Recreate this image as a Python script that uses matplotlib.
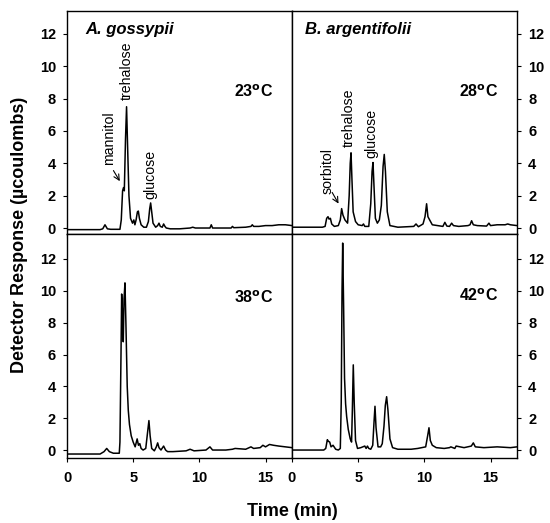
import matplotlib
matplotlib.use('Agg')
import matplotlib.pyplot as plt

plt.rcParams['font.family'] = ['Liberation Sans', 'DejaVu Sans']

# A. gossypii, 23 C
ag23_t = [0, 2.5, 2.7, 2.87, 3.05, 3.3, 4.0, 4.1, 4.2, 4.27, 4.33, 4.42, 4.5, 4.58, 4.68, 4.8,
          4.95, 5.05, 5.13, 5.22, 5.32, 5.39, 5.47, 5.6, 5.8, 6.0, 6.15, 6.25, 6.32, 6.4, 6.5,
          6.7, 6.85, 6.95, 7.05, 7.2, 7.3, 7.4, 7.5, 7.8, 8.5, 9.3, 9.5, 9.7, 10.5, 10.8, 10.9,
          11.0, 12.0, 12.4, 12.5, 12.6, 13.5, 13.9, 14.0, 14.1, 14.5, 15.0, 15.5, 16.0, 16.5, 17.0]
ag23_v = [-0.1, -0.1, -0.05, 0.2, -0.05, -0.08, -0.08, 0.5, 2.3, 2.5, 2.3, 5.5, 7.5, 5.0, 2.0, 0.6,
          0.3, 0.5, 0.2, 0.5, 1.0, 1.05, 0.6, 0.2, 0.05, 0.05, 0.4, 1.2, 1.55, 1.0, 0.3,
          0.05, 0.15, 0.3, 0.1, 0.05, 0.25, 0.1, 0.0, -0.05, -0.05, 0.0, 0.05, 0.0, 0.0, 0.0, 0.2,
          0.0, 0.0, 0.0, 0.1, 0.02, 0.05, 0.1, 0.2, 0.1, 0.1, 0.15, 0.15, 0.2, 0.2, 0.15]

# B. argentifolii, 28 C
ba28_t = [0, 2.3, 2.5, 2.62, 2.72, 2.8, 2.9, 3.0, 3.2, 3.5, 3.65, 3.75, 3.85, 4.0, 4.2, 4.32, 4.4,
          4.46, 4.53, 4.62, 4.8, 5.0, 5.3, 5.4, 5.5, 5.8, 5.95, 6.05, 6.12, 6.2, 6.3, 6.45, 6.6,
          6.75, 6.88, 6.97, 7.06, 7.2, 7.4, 8.0, 9.2, 9.37, 9.55, 9.9, 10.05, 10.17, 10.27, 10.4,
          10.6, 11.0, 11.4, 11.55, 11.7, 11.9, 12.06, 12.2, 12.6, 13.3, 13.45, 13.57, 13.7, 14.0,
          14.7, 14.88, 15.0, 15.5, 16.1, 16.3, 16.5, 17.0]
ba28_v = [0.05, 0.05, 0.1, 0.6, 0.7, 0.55, 0.6, 0.25, 0.1, 0.15, 0.5, 1.2, 0.8, 0.5, 0.3, 2.0, 4.0,
          4.65, 3.0, 1.0, 0.4, 0.2, 0.15, 0.25, 0.1, 0.1, 1.5, 3.5, 4.05, 2.5, 0.6, 0.3, 0.5,
          1.4, 3.8, 4.55, 3.5, 1.0, 0.15, 0.05, 0.1, 0.25, 0.08, 0.25, 0.7, 1.5, 0.7, 0.5,
          0.2, 0.15, 0.1, 0.35, 0.12, 0.1, 0.3, 0.15, 0.1, 0.15, 0.2, 0.45, 0.2, 0.15,
          0.12, 0.3, 0.15, 0.2, 0.2, 0.25, 0.2, 0.15]

# A. gossypii, 38 C
ag38_t = [0, 2.5, 2.8, 3.0, 3.2, 3.5, 3.95, 4.0, 4.08, 4.13, 4.2, 4.25, 4.31, 4.38, 4.45, 4.55,
          4.63, 4.72, 4.85, 5.0, 5.15, 5.3, 5.4, 5.5, 5.6, 5.75, 5.95, 6.1, 6.19, 6.28, 6.4, 6.6,
          6.75, 6.85, 6.95, 7.1, 7.3, 7.45, 7.6, 8.0, 9.0, 9.3, 9.6, 10.5, 10.8, 11.0, 12.0, 12.5,
          12.7, 13.5, 13.9, 14.1, 14.6, 14.8, 15.0, 15.3, 15.6, 16.0, 17.0]
ag38_v = [-0.25, -0.25, -0.1, 0.1, -0.1, -0.2, -0.2, 0.5, 6.0, 9.8, 8.5, 6.8, 9.5, 10.5, 8.0, 4.0,
          2.5, 1.6, 0.9, 0.5, 0.2, 0.7, 0.3, 0.4, 0.1, 0.0, 0.1, 1.2, 1.85, 0.9, 0.1, -0.05,
          0.2, 0.45, 0.15, 0.0, 0.25, 0.0, -0.1, -0.1, -0.05, 0.05, -0.05, 0.0, 0.2, 0.0, 0.0, 0.05,
          0.1, 0.05, 0.2, 0.1, 0.15, 0.3, 0.2, 0.35, 0.3, 0.25, 0.15]

# B. argentifolii, 42 C
ba42_t = [0, 2.4, 2.55, 2.67, 2.75, 2.85, 2.95, 3.1, 3.3, 3.5, 3.65, 3.72, 3.78, 3.83, 3.9, 3.97,
          4.05, 4.13, 4.25, 4.4, 4.5, 4.56, 4.63, 4.7, 4.8, 4.95, 5.2, 5.5, 5.6, 5.7, 5.8, 5.95,
          6.1, 6.2, 6.27, 6.35, 6.5, 6.7, 6.82, 6.95, 7.05, 7.15, 7.25, 7.4, 7.6, 8.0, 9.0, 9.5,
          10.1, 10.25, 10.35, 10.45, 10.6, 10.9, 11.5, 11.9, 12.0, 12.3, 12.4, 13.0, 13.55, 13.7,
          13.85, 14.5, 15.5, 16.5, 17.0]
ba42_v = [0.0, 0.0, 0.1, 0.65, 0.55, 0.5, 0.2, 0.3, 0.05, 0.0, 0.1, 3.0, 10.0, 13.0, 9.0, 4.5,
          2.9, 2.1, 1.3, 0.7, 0.5, 2.5, 5.35, 3.0, 0.6, 0.1, 0.15, 0.25, 0.1, 0.25, 0.1, 0.05,
          0.3, 1.8, 2.75, 1.4, 0.2, 0.2, 0.4, 1.5, 2.8, 3.35, 2.5, 0.7, 0.15, 0.05, 0.05, 0.1,
          0.2, 0.9, 1.4, 0.6, 0.3, 0.15, 0.1, 0.15, 0.2, 0.1, 0.25, 0.15, 0.25, 0.45,
          0.2, 0.15, 0.2, 0.15, 0.2]

xticks = [0, 5, 10, 15]
yticks = [0, 2, 4, 6, 8, 10, 12]

fig = plt.figure(figsize=(5.5, 5.23), dpi=100)
L, M, R = 67 / 550, 292 / 550, 517 / 550
T, H, B = 1 - 11 / 523, 1 - 234 / 523, 1 - 458 / 523

ax_tl = fig.add_axes([L, H, M - L, T - H])
ax_tr = fig.add_axes([M, H, R - M, T - H])
ax_bl = fig.add_axes([L, B, M - L, H - B])
ax_br = fig.add_axes([M, B, R - M, H - B])

panels = [
    (ax_tl, ag23_t, ag23_v, (-0.37, 13.42), r'23$^{\mathbf{o}}$C', 8.4, True, True),
    (ax_tr, ba28_t, ba28_v, (-0.37, 13.42), r'28$^{\mathbf{o}}$C', 8.4, False, True),
    (ax_bl, ag38_t, ag38_v, (-0.5, 13.57), r'38$^{\mathbf{o}}$C', 9.6, True, False),
    (ax_br, ba42_t, ba42_v, (-0.5, 13.57), r'42$^{\mathbf{o}}$C', 9.7, False, False),
]

for ax, t, v, ylim, temp, ty, left, top in panels:
    ax.plot(t, v, color='black', lw=1.1)
    ax.set_xlim(0, 17)
    ax.set_ylim(*ylim)
    ax.set_xticks(xticks)
    ax.set_yticks(yticks)
    for s in ax.spines.values():
        s.set_linewidth(1.0)
    ax.tick_params(direction='out', length=3, width=0.8, labelsize=10.5, pad=5)
    ax.tick_params(axis='x', pad=6.5)
    if left:
        ax.tick_params(axis='y', left=True, right=False, labelleft=True, labelright=False)
    else:
        ax.tick_params(axis='y', left=False, right=True, labelleft=False, labelright=True)
    if top:
        ax.tick_params(axis='x', labelbottom=False)
    for lab in ax.get_xticklabels() + ax.get_yticklabels():
        lab.set_fontweight('bold')
    ax.text(12.6, ty, temp, fontsize=11.5, fontweight='bold', va='center', ha='left')

ax_tl.text(1.36, 12.3, 'A. gossypii', fontsize=12, fontweight='bold', style='italic', va='center')
ax_tr.text(1.0, 12.3, 'B. argentifolii', fontsize=12, fontweight='bold', style='italic', va='center')

pk = dict(fontsize=10.2, rotation=90, ha='center', va='bottom')
ax_tl.text(3.2, 3.9, 'mannitol', **pk)
ax_tl.annotate('', xy=(4.1, 2.75), xytext=(3.4, 3.7),
               arrowprops=dict(arrowstyle='->', lw=0.8, color='black'))
ax_tl.text(4.5, 7.9, 'trehalose', **pk)
ax_tl.text(6.32, 1.8, 'glucose', **pk)
ax_tr.text(2.7, 2.1, 'sorbitol', **pk)
ax_tr.annotate('', xy=(3.62, 1.36), xytext=(2.93, 2.35),
               arrowprops=dict(arrowstyle='->', lw=0.8, color='black'))
ax_tr.text(4.3, 5.0, 'trehalose', **pk)
ax_tr.text(6.0, 4.3, 'glucose', **pk)

fig.text(292 / 550, 1 - 511 / 523, 'Time (min)', fontsize=13, fontweight='bold', ha='center', va='center')
fig.text(20 / 550, 0.55, u'Detector Response (\u00b5coulombs)', fontsize=13, fontweight='bold',
         rotation=90, ha='center', va='center')

fig.savefig('out.png', dpi=100)
